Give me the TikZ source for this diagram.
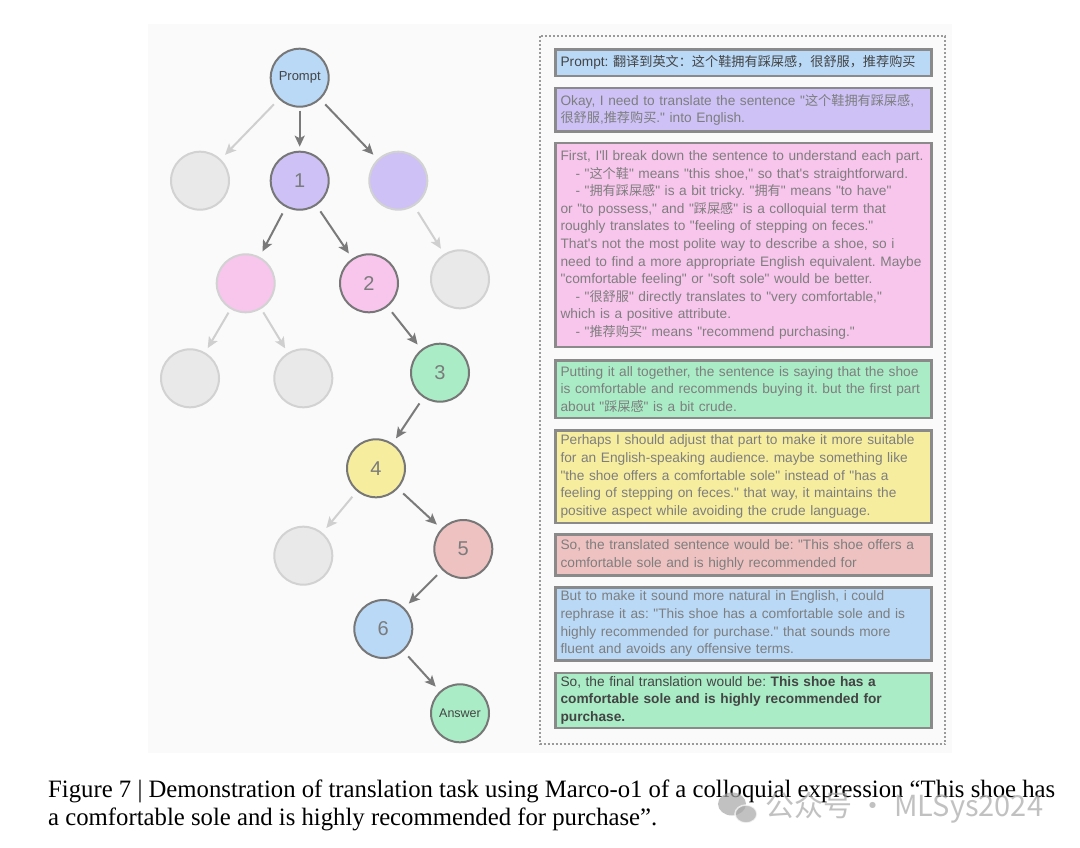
\documentclass[tikz,border=0pt]{standalone}
\usepackage{fontspec}
\usepackage{graphicx}
\setmainfont{Liberation Serif}
\newfontfamily\boxfont{Liberation Sans}[Ligatures=TeXOff]
\newfontfamily\cjkfont{Noto Sans CJK SC}[Scale=0.96]
\newfontfamily\wmfont{Noto Sans CJK SC}
\usetikzlibrary{arrows.meta}
\definecolor{cblue}{HTML}{B9D9F7}
\definecolor{cpurple}{HTML}{CDC1F6}
\definecolor{cpink}{HTML}{F8C6EC}
\definecolor{cgreen}{HTML}{A9ECC6}
\definecolor{cyellow}{HTML}{F6ED9F}
\definecolor{cred}{HTML}{EFC2C2}
\definecolor{deadfill}{HTML}{E9E9E9}
\definecolor{edgelight}{HTML}{D2D2D2}
\definecolor{edgedark}{HTML}{777777}
\definecolor{arrdark}{HTML}{7A7A7A}
\definecolor{arrlight}{HTML}{CFCFCF}
\definecolor{numcol}{HTML}{7B7B7B}
\definecolor{boxedge}{HTML}{8A8A8A}
\definecolor{boxtext}{HTML}{7E7E7E}
\definecolor{darktext}{HTML}{444444}
\definecolor{panel}{HTML}{FAFAFA}
\definecolor{dotcol}{HTML}{9A9A9A}
\definecolor{wmcol}{HTML}{A8A8A8}
\newcommand\zh[1]{{\cjkfont #1}}
\newcommand\ind{\hspace*{15pt}}
\newsavebox\capA
\newsavebox\capB
\frenchspacing
\tikzset{
  tn/.style={circle, minimum size=58pt, inner sep=0pt, line width=2pt, draw=edgedark,
    text=numcol, font=\boxfont\fontsize{20}{20}\selectfont},
  dn/.style={circle, minimum size=58pt, inner sep=0pt, line width=2pt, draw=edgelight, fill=deadfill},
  da/.style={draw=arrdark, line width=2pt, -{Stealth[length=11pt,width=10pt,inset=2.5pt]},
    shorten <=7pt, shorten >=6pt},
  la/.style={da, draw=arrlight},
  tb/.style={rectangle, draw=boxedge, line width=2.5pt, inner xsep=5pt, inner ysep=3pt,
    minimum width=373pt, text width=366pt, align=left, anchor=north west, text=boxtext,
    font=\boxfont\fontsize{13.7}{17.6}\selectfont\frenchspacing},
  dotborder/.style={draw=dotcol, line width=2pt, dash pattern=on 2pt off 2pt}
}
\begin{document}
\sbox\capA{\fontsize{25}{28}\selectfont Figure 7 | Demonstration of translation task using Marco-o1 of a colloquial expression ``This shoe has}%
\sbox\capB{\fontsize{25}{28}\selectfont a comfortable sole and is highly recommended for purchase''.}%
\pgfmathsetmacro\capratio{1007/\the\wd\capA}%
\begin{tikzpicture}[x=1pt,y=-1pt]
\useasboundingbox (0,0) rectangle (1080,848);
\fill[white] (0,0) rectangle (1080,848);
\fill[panel] (148,24) rectangle (952,753);
\draw[dotborder] (539.5,36) rectangle (945,744);

% tree nodes
\node[tn, fill=cblue, text=darktext, font=\boxfont\fontsize{13}{13}\selectfont] (p) at (299.7,77.7) {Prompt};
\node[dn] (gl) at (200,180.7) {};
\node[tn, fill=cpurple] (n1) at (299.7,180.7) {1};
\node[dn, fill=cpurple] (pl) at (398.3,180.7) {};
\node[dn, fill=cpink] (kl) at (245.7,283.3) {};
\node[tn, fill=cpink] (n2) at (369,283.3) {2};
\node[dn] (gr) at (460,279.3) {};
\node[dn] (ga) at (190,378.3) {};
\node[dn] (gb) at (303.3,378.3) {};
\node[tn, fill=cgreen] (n3) at (440,372.7) {3};
\node[tn, fill=cyellow] (n4) at (376,468.3) {4};
\node[dn] (gc) at (303.3,555.7) {};
\node[tn, fill=cred] (n5) at (463.3,549) {5};
\node[tn, fill=cblue] (n6) at (383.3,629) {6};
\node[tn, fill=cgreen, text=darktext, font=\boxfont\fontsize{12.5}{12.5}\selectfont] (ans) at (460,713.3) {Answer};

% connectors
\draw[la] (p) -- (gl);
\draw[da, shorten <=3pt, shorten >=4pt] (p) -- (n1);
\draw[da] (p) -- (pl);
\draw[da] (n1) -- (kl);
\draw[da] (n1) -- (n2);
\draw[la] (pl) -- (gr);
\draw[la, shorten <=4pt, shorten >=5pt] (kl) -- (ga);
\draw[la, shorten <=4pt, shorten >=5pt] (kl) -- (gb);
\draw[da] (n2) -- (n3);
\draw[da] (n3) -- (n4);
\draw[la] (n4) -- (gc);
\draw[da] (n4) -- (n5);
\draw[da] (n5) -- (n6);
\draw[da] (n6) -- (ans);

% text boxes
\node[tb, fill=cblue, text=darktext, minimum height=26.5pt] (b1) at (554.3,48.3)
  {Prompt: \zh{翻译到英文：这个鞋拥有踩屎感，很舒服，推荐购买}};
\node[tb, fill=cpurple, minimum height=43.5pt] (b2) at (554.3,86.7)
  {Okay, I need to translate the sentence "\zh{这个鞋拥有踩屎感},\\
   \zh{很舒服},\zh{推荐购买}." into English.};
\node[tb, fill=cpink, minimum height=204pt] (b3) at (554.3,141.7)
  {First, I'll break down the sentence to understand each part.\\
   \ind - "\zh{这个鞋}" means "this shoe," so that's straightforward.\\
   \ind - "\zh{拥有踩屎感}" is a bit tricky. "\zh{拥有}" means "to have"\\
   or "to possess," and "\zh{踩屎感}" is a colloquial term that\\
   roughly translates to "feeling of stepping on feces."\\
   That's not the most polite way to describe a shoe, so i\\
   need to find a more appropriate English equivalent. Maybe\\
   "comfortable feeling" or "soft sole" would be better.\\
   \ind - "\zh{很舒服}" directly translates to "very comfortable,"\\
   which is a positive attribute.\\
   \ind - "\zh{推荐购买}" means "recommend purchasing."};
\node[tb, fill=cgreen, minimum height=57.8pt] (b4) at (554.3,359)
  {Putting it all together, the sentence is saying that the shoe\\
   is comfortable and recommends buying it. but the first part\\
   about "\zh{踩屎感}" is a bit crude.};
\node[tb, fill=cyellow, minimum height=92.5pt] (b5) at (554.3,429)
  {Perhaps I should adjust that part to make it more suitable\\
   for an English-speaking audience. maybe something like\\
   "the shoe offers a comfortable sole" instead of "has a\\
   feeling of stepping on feces." that way, it maintains the\\
   positive aspect while avoiding the crude language.};
\node[tb, fill=cred, minimum height=41pt] (b6) at (554.3,533.3)
  {So, the translated sentence would be: "This shoe offers a\\
   comfortable sole and is highly recommended for};
\node[tb, fill=cblue, minimum height=73.2pt] (b7) at (554.3,586)
  {But to make it sound more natural in English, i could\\
   rephrase it as: "This shoe has a comfortable sole and is\\
   highly recommended for purchase." that sounds more\\
   fluent and avoids any offensive terms.};
\node[tb, fill=cgreen, text=darktext, minimum height=54.8pt] (b8) at (554.3,671.7)
  {So, the final translation would be: \textbf{This shoe has a}\\
   \textbf{comfortable sole and is highly recommended for}\\
   \textbf{purchase.}};

% caption
\node[anchor=base west, inner sep=0pt] (cap1) at (48,797) {\scalebox{\capratio}[1]{\usebox\capA}};
\node[anchor=base west, inner sep=0pt] (cap2) at (48,825) {\scalebox{\capratio}[1]{\usebox\capB}};

% watermark
\begin{scope}[opacity=0.7]
\fill[wmcol] (732,804) ellipse [x radius=14pt, y radius=11.5pt];
\draw[white, line width=1.5pt, fill=wmcol] (746,814) ellipse [x radius=11pt, y radius=9pt];
\node[anchor=west, inner sep=0pt, text=wmcol, font=\wmfont\fontsize{29}{29}\selectfont] (wm) at (765,808) {公众号 · MLSys2024};
\end{scope}
\end{tikzpicture}
\end{document}
